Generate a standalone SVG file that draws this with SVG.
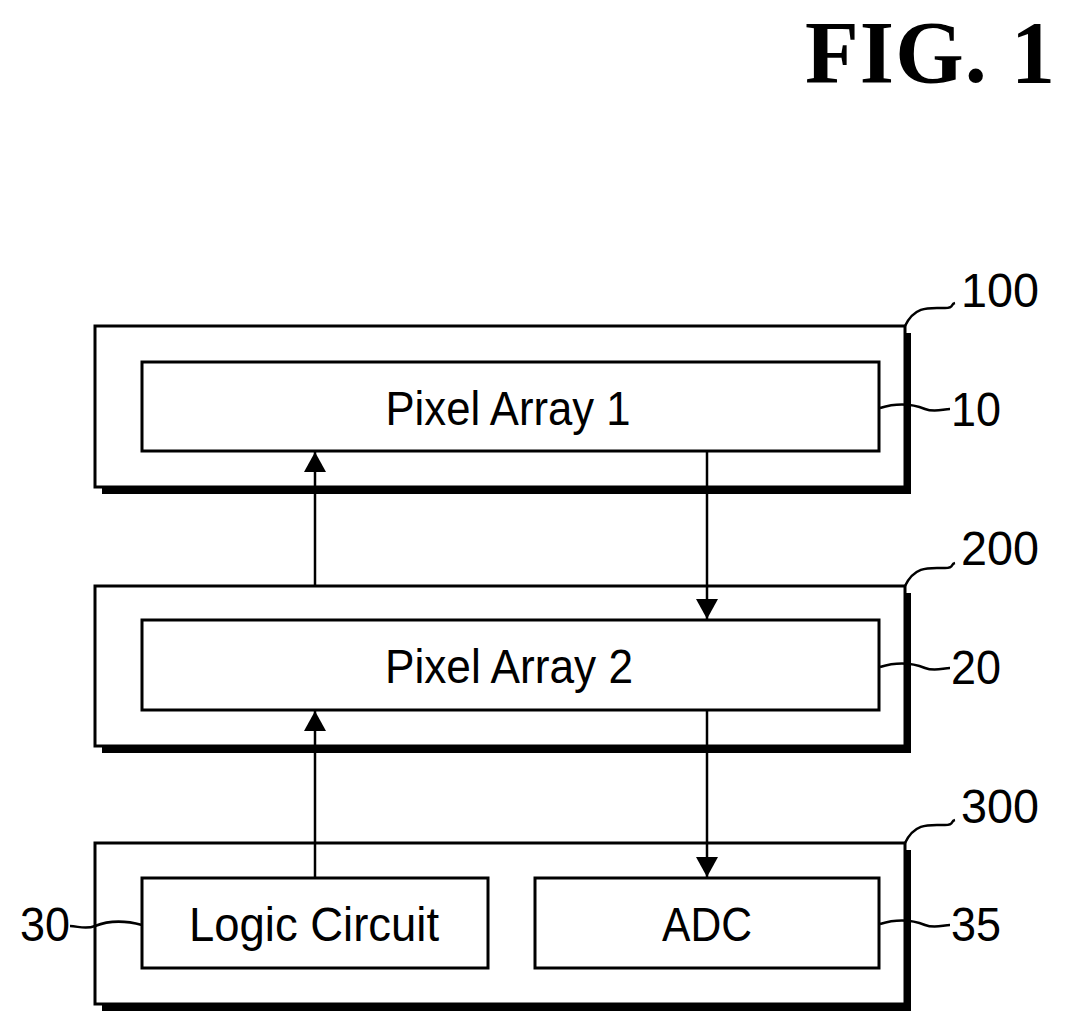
<svg xmlns="http://www.w3.org/2000/svg" width="1074" height="1031" viewBox="0 0 1074 1031">
<style>
.box{fill:#fff;stroke:#000;stroke-width:3}
.sh{fill:#000}
.t{font-family:"Liberation Sans",Arial,sans-serif;font-size:48px;fill:#000}
.lead{fill:none;stroke:#000;stroke-width:2.5}
.ln{stroke:#000;stroke-width:2.5}
</style>
<defs><marker id="a" viewBox="0 0 20 22" refX="20" refY="11" markerWidth="20" markerHeight="22" markerUnits="userSpaceOnUse" orient="auto"><path d="M0,0L20,11L0,22z" fill="#000"/></marker></defs>
<text x="1055" y="82" text-anchor="end" textLength="250" style="font-family:'Liberation Serif','Times New Roman',serif;font-weight:bold;font-size:88px">FIG. 1</text>
<g id="n100"><rect class="sh" x="903" y="333" width="8" height="161"/><rect class="sh" x="102" y="486" width="809" height="8"/><rect class="box" x="95" y="326" width="810" height="161"/></g>
<g id="n10"><rect class="box" x="142" y="362" width="737" height="89"/><text class="t" x="508" y="425" text-anchor="middle" textLength="245" lengthAdjust="spacingAndGlyphs">Pixel Array 1</text></g>
<g id="n200"><rect class="sh" x="903" y="593" width="8" height="160"/><rect class="sh" x="102" y="745" width="809" height="8"/><rect class="box" x="95" y="586" width="810" height="160"/></g>
<g id="n20"><rect class="box" x="142" y="620" width="737" height="90"/><text class="t" x="509" y="683" text-anchor="middle" textLength="248" lengthAdjust="spacingAndGlyphs">Pixel Array 2</text></g>
<g id="n300"><rect class="sh" x="903" y="850" width="8" height="161"/><rect class="sh" x="102" y="1003" width="809" height="8"/><rect class="box" x="95" y="843" width="810" height="161"/></g>
<g id="n30"><rect class="box" x="142" y="878" width="346" height="90"/><text class="t" x="314" y="941" text-anchor="middle" textLength="250" lengthAdjust="spacingAndGlyphs">Logic Circuit</text></g>
<g id="n35"><rect class="box" x="535" y="878" width="344" height="90"/><text class="t" x="707" y="941" text-anchor="middle" textLength="90" lengthAdjust="spacingAndGlyphs">ADC</text></g>
<g id="labels">
<text class="t" x="1000" y="307" text-anchor="middle" textLength="78" lengthAdjust="spacingAndGlyphs">100</text>
<text class="t" x="976" y="426" text-anchor="middle" textLength="50" lengthAdjust="spacingAndGlyphs">10</text>
<text class="t" x="1000" y="565" text-anchor="middle" textLength="78" lengthAdjust="spacingAndGlyphs">200</text>
<text class="t" x="976" y="684" text-anchor="middle" textLength="50" lengthAdjust="spacingAndGlyphs">20</text>
<text class="t" x="1000" y="823" text-anchor="middle" textLength="78" lengthAdjust="spacingAndGlyphs">300</text>
<text class="t" x="45" y="941" text-anchor="middle" textLength="50" lengthAdjust="spacingAndGlyphs">30</text>
<text class="t" x="976" y="941" text-anchor="middle" textLength="50" lengthAdjust="spacingAndGlyphs">35</text>
<path class="lead" d="M905,326 C915,305 930,308 945,308 C955,308 950,304 955,303"/>
<path class="lead" d="M880,408 C900,402 915,405 925,409 C935,413 943,409 950,409"/>
<path class="lead" d="M905,586 C915,565 930,568 945,568 C955,568 950,564 955,563"/>
<path class="lead" d="M880,667 C900,661 915,664 925,668 C935,672 943,668 950,668"/>
<path class="lead" d="M905,843 C915,822 930,825 945,825 C955,825 950,821 955,820"/>
<path class="lead" d="M880,924 C900,918 915,921 925,925 C935,929 943,925 950,925"/>
<path class="lead" d="M142,925 C120,919 105,922 95,926 C85,930 78,926 70,926"/>
</g>
<g id="connectors">
<line class="ln" x1="315" y1="586" x2="315" y2="452" marker-end="url(#a)"/>
<line class="ln" x1="707" y1="451" x2="707" y2="619" marker-end="url(#a)"/>
<line class="ln" x1="315" y1="878" x2="315" y2="711" marker-end="url(#a)"/>
<line class="ln" x1="707" y1="710" x2="707" y2="877" marker-end="url(#a)"/>
</g>
</svg>
